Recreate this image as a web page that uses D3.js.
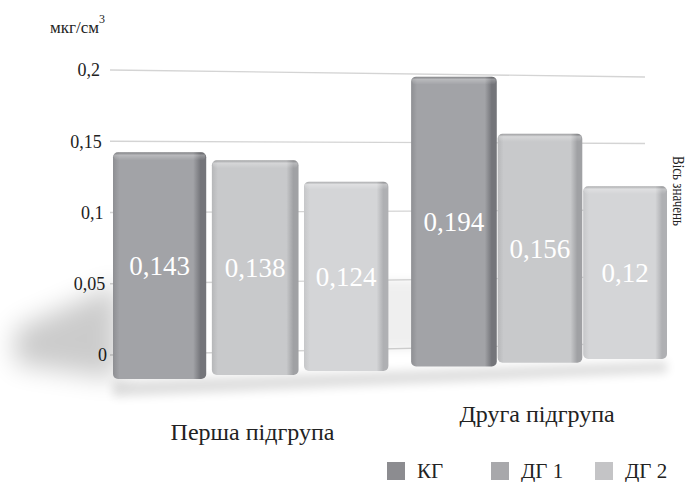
<!DOCTYPE html>
<html><head><meta charset="utf-8">
<script src="https://cdn.jsdelivr.net/npm/d3@7"></script>
</head><body style="margin:0;background:#fff"><svg id="c" width="688" height="482" style="display:block"></svg>
<script>
// ---- data ----
const groups = ["Перша підгрупа", "Друга підгрупа"];
const series = ["КГ", "ДГ 1", "ДГ 2"];
const valuesKG  = [0.143, 0.194];
const valuesDG1 = [0.138, 0.156];
const valuesDG2 = [0.124, 0.12];
const yTicks = [0, 0.05, 0.1, 0.15, 0.2];
const yTickLabels = ["0", "0,05", "0,1", "0,15", "0,2"];
const unitLabel = "мкг/см";
const unitSup = "3";
const axisTitle = "Вісь значень";

const FONT = '"Liberation Serif"';
const seriesValues = [valuesKG, valuesDG1, valuesDG2];
const seriesColors = [
  {l:"#8e8f93", m:"#a2a3a7", r:"#74757a", leg:"#8c8c90"},
  {l:"#b6b7b9", m:"#c8c9cb", r:"#a0a1a4", leg:"#a8a8ab"},
  {l:"#c6c7c9", m:"#d4d5d7", r:"#afb0b3", leg:"#c4c4c6"}
];
const fmt = v => String(v).replace(".", ",");

const svg = d3.select("#c");
const defs = svg.append("defs");
defs.append("filter").attr("id","blur").attr("x","-50%").attr("y","-50%").attr("width","200%").attr("height","200%")
  .append("feGaussianBlur").attr("stdDeviation", 13);
defs.append("filter").attr("id","blur2").attr("x","-50%").attr("y","-50%").attr("width","200%").attr("height","200%")
  .append("feGaussianBlur").attr("stdDeviation", 5);
seriesColors.forEach((c,i)=>{
  const g = defs.append("linearGradient").attr("id","bg"+i).attr("x1",0).attr("x2",1).attr("y1",0).attr("y2",0);
  [[0,c.l],[0.07,c.m],[0.5,c.m],[0.86,c.m],[0.94,c.r],[1,c.r]].forEach(s=>g.append("stop").attr("offset",s[0]).attr("stop-color",s[1]));
});
const tg = defs.append("linearGradient").attr("id","topg").attr("x1",0).attr("x2",0).attr("y1",0).attr("y2",1);
[[0,"#000",0.18],[0.35,"#fff",0.25],[1,"#fff",0]].forEach(s=>tg.append("stop").attr("offset",s[0]).attr("stop-color",s[1]).attr("stop-opacity",s[2]));

// ---- scales ----
const yL = d3.scaleLinear().domain([0, 0.2]).range([355, 70]);   // left edge of wall
const yR = d3.scaleLinear().domain([0, 0.2]).range([343, 77]);   // right edge of wall
const xLab = d3.scaleLinear().domain([0, 0.2]).range([107, 100]);
// flat layout, then a perspective compression to screen x
const x0 = d3.scaleBand().domain(groups).range([0, 1]).paddingInner(0.08);
const innerPad = [0.06, 0.01];
const x1s = groups.map((g,i)=>d3.scaleBand().domain(series).range([0, x0.bandwidth()]).paddingInner(innerPad[i]));
const px = d3.scalePow().exponent(0.95).domain([0, 1]).range([113, 667]);
const base = d3.scaleLinear().domain([159, 627]).range([379, 359]);   // perspective floor
const depth = d3.scaleLinear().domain([159, 627]).range([1585, 1440]); // perspective height factor

// gridlines
svg.append("g").selectAll("line").data(yTicks).join("line")
  .attr("x1",110).attr("x2",645)
  .attr("y1",d=>yL(d)).attr("y2",d=>yR(d))
  .attr("stroke","#d4d4d4").attr("stroke-width",1.3);

// tick labels
svg.append("g").selectAll("text").data(yTicks).join("text")
  .attr("x",d=>xLab(d)).attr("y",d=>yL(d)).attr("dy","0.35em")
  .attr("text-anchor","end").attr("font-size",18).attr("fill","#222")
  .style("font-family",FONT)
  .text((d,i)=>yTickLabels[i]);

// unit label
const ut = svg.append("text").attr("x",50).attr("y",33).attr("font-size",17).attr("fill","#222").style("font-family",FONT);
ut.append("tspan").style("font-family",FONT).text(unitLabel);
ut.append("tspan").attr("dy",-10).attr("font-size",12).style("font-family",FONT).text(unitSup);

// bars data
const bars = [];
groups.forEach((g,gi)=>{
  series.forEach((s,si)=>{
    const u0 = x0(g) + x1s[gi](s);
    const u1 = u0 + x1s[gi].bandwidth();
    const x = px(u0), x2 = px(u1);
    const w = x2 - x;
    const cx = x + w/2;
    const v = seriesValues[si][gi];
    const b = base(cx);
    const t = b - v*depth(cx);
    bars.push({g,gi,s,si,x,w,cx,v,b,t});
  });
});

// shadows
const sh = svg.append("g");
sh.append("path")
  .attr("d", `M15,${bars[0].b-50} L${bars[0].x+5},${bars[0].b-95} L${bars[0].x+5},${bars[0].b} L15,${bars[0].b-15} Z`)
  .attr("fill","#000").attr("opacity",0.2).attr("filter","url(#blur)");
sh.append("path")
  .attr("d", `M${bars[0].x},${bars[0].b+2} L${bars[5].x+bars[5].w},${bars[5].b+2} L${bars[5].x+bars[5].w},${bars[5].b+14} L${bars[0].x},${bars[0].b+18} Z`)
  .attr("fill","#000").attr("opacity",0.12).attr("filter","url(#blur2)");
sh.append("rect").attr("x",bars[2].x+bars[2].w-10).attr("y",280).attr("width",bars[3].x-bars[2].x-bars[2].w+20).attr("height",70)
  .attr("fill","#000").attr("opacity",0.06).attr("filter","url(#blur2)");

// bars
const bg = svg.append("g").selectAll("g").data(bars).join("g");
bg.append("rect")
  .attr("x",d=>d.x).attr("y",d=>d.t).attr("width",d=>d.w).attr("height",d=>d.b-d.t)
  .attr("rx",5).attr("fill",d=>`url(#bg${d.si})`);
bg.append("rect")
  .attr("x",d=>d.x+1).attr("y",d=>d.t).attr("width",d=>d.w-2).attr("height",8)
  .attr("rx",4).attr("fill","url(#topg)");
bg.append("text")
  .attr("x",d=>d.cx).attr("y",d=>(d.t+d.b)/2).attr("dy","0.35em")
  .attr("text-anchor","middle").attr("fill","#fff").attr("font-size",27)
  .style("font-family",FONT)
  .text(d=>fmt(d.v));

// category labels
const labY = d3.scaleLinear().domain([0,1]).range([440, 422]);
svg.append("g").selectAll("text").data(groups).join("text")
  .attr("x",(d,i)=>px(x0(d)+x0.bandwidth()/2) - 3).attr("y",(d,i)=>labY(i))
  .attr("text-anchor","middle").attr("font-size",24).attr("fill","#222")
  .style("font-family",FONT)
  .text(d=>d);

// axis title (rotated)
svg.append("text").attr("transform","translate(673,191) rotate(90)")
  .attr("text-anchor","middle").attr("font-size",16).attr("fill","#222")
  .attr("textLength",70).attr("lengthAdjust","spacingAndGlyphs")
  .style("font-family",FONT).text(axisTitle);

// legend
const legX = d3.scalePoint().domain(series).range([387, 595]);
const lg = svg.append("g").selectAll("g").data(series).join("g")
  .attr("transform",d=>`translate(${legX(d)},462)`);
lg.append("rect").attr("width",18).attr("height",18).attr("fill",(d,i)=>seriesColors[i].leg);
lg.append("text").attr("x",30).attr("y",16).attr("font-size",21).attr("fill","#222")
  .style("font-family",FONT).text(d=>d);
</script></body></html>
